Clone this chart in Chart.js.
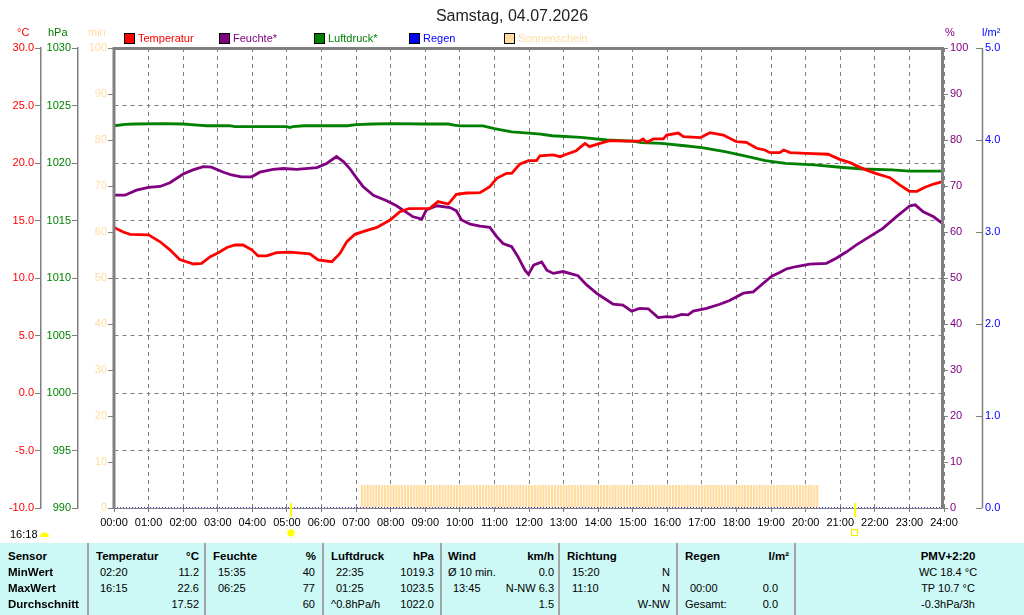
<!DOCTYPE html>
<html><head><meta charset="utf-8">
<script src="https://cdn.jsdelivr.net/npm/chart.js@4/dist/chart.umd.min.js"></script>
<style>
html,body{margin:0;padding:0;background:#fff;width:1024px;height:615px;overflow:hidden;font-family:"Liberation Sans",Arial,sans-serif;}
#wrap{position:absolute;left:0;top:0;width:1024px;height:543px;}
.t{position:absolute;white-space:nowrap;font-size:11px;line-height:13px;}
.b{font-weight:bold;font-size:11.5px;}
#title{position:absolute;left:0;width:1024px;top:7px;text-align:center;font-size:16px;line-height:18px;color:#222;}
.lg{position:absolute;top:33px;width:9px;height:9px;border:1px solid #000;}
#tab{position:absolute;left:0;top:543px;width:1024px;height:72px;background:#CCF8F6;color:#000;}
.sep{position:absolute;top:0;width:2px;height:72px;background:#A4A4A4;}
</style></head><body>
<div id="wrap"><canvas id="c" width="1024" height="543"></canvas></div>
<div id="title">Samstag, 04.07.2026</div>

<div class="t" style="left:17px;top:26px;color:#FF0000">°C</div>
<div class="t" style="left:48px;top:26px;color:#008000">hPa</div>
<div class="t" style="left:88px;top:26px;color:#FFDCA0">min</div>
<div class="t" style="left:945px;top:26px;color:#800080">%</div>
<div class="t" style="left:982px;top:26px;color:#0000FF">l/m²</div>

<div class="lg" style="left:124px;background:#FF0000"></div><div class="t" style="left:138px;top:32px;color:#FF0000">Temperatur</div>
<div class="lg" style="left:219px;background:#800080"></div><div class="t" style="left:233px;top:32px;color:#800080">Feuchte*</div>
<div class="lg" style="left:314px;background:#008000"></div><div class="t" style="left:328px;top:32px;color:#008000">Luftdruck*</div>
<div class="lg" style="left:409px;background:#0000FF"></div><div class="t" style="left:423px;top:32px;color:#0000FF">Regen</div>
<div class="lg" style="left:504px;background:#FFDCA0"></div><div class="t" style="left:518px;top:32px;color:#FFDCA0">Sonnenschein</div>

<div class="t" style="left:10px;top:528px;color:#000">16:18</div>

<div id="tab">
<div class="sep" style="left:87px"></div><div class="sep" style="left:204px"></div><div class="sep" style="left:322px"></div>
<div class="sep" style="left:440px"></div><div class="sep" style="left:558px"></div><div class="sep" style="left:676px"></div><div class="sep" style="left:794px"></div>

<div class="t b" style="left:8px;top:7px">Sensor</div>
<div class="t b" style="left:96px;top:7px">Temperatur</div><div class="t b" style="right:825px;top:7px">°C</div>
<div class="t b" style="left:213px;top:7px">Feuchte</div><div class="t b" style="right:708px;top:7px">%</div>
<div class="t b" style="left:331px;top:7px">Luftdruck</div><div class="t b" style="right:590px;top:7px">hPa</div>
<div class="t b" style="left:448px;top:7px">Wind</div><div class="t b" style="right:470px;top:7px">km/h</div>
<div class="t b" style="left:567px;top:7px">Richtung</div>
<div class="t b" style="left:685px;top:7px">Regen</div><div class="t b" style="right:235px;top:7px">l/m²</div>
<div class="t b" style="left:872px;width:152px;text-align:center;top:7px">PMV+2:20</div>

<div class="t b" style="left:8px;top:23px">MinWert</div>
<div class="t" style="left:100px;top:23px">02:20</div><div class="t" style="right:825px;top:23px">11.2</div>
<div class="t" style="left:218px;top:23px">15:35</div><div class="t" style="right:709px;top:23px">40</div>
<div class="t" style="left:336px;top:23px">22:35</div><div class="t" style="right:590px;top:23px">1019.3</div>
<div class="t" style="left:448px;top:23px">Ø 10 min.</div><div class="t" style="right:470px;top:23px">0.0</div>
<div class="t" style="left:572px;top:23px">15:20</div><div class="t" style="right:354px;top:23px">N</div>
<div class="t" style="left:872px;width:152px;text-align:center;top:23px">WC 18.4 °C</div>

<div class="t b" style="left:8px;top:39px">MaxWert</div>
<div class="t" style="left:100px;top:39px">16:15</div><div class="t" style="right:825px;top:39px">22.6</div>
<div class="t" style="left:218px;top:39px">06:25</div><div class="t" style="right:709px;top:39px">77</div>
<div class="t" style="left:336px;top:39px">01:25</div><div class="t" style="right:590px;top:39px">1023.5</div>
<div class="t" style="left:453px;top:39px">13:45</div><div class="t" style="right:470px;top:39px">N-NW 6.3</div>
<div class="t" style="left:572px;top:39px">11:10</div><div class="t" style="right:354px;top:39px">N</div>
<div class="t" style="left:690px;top:39px">00:00</div><div class="t" style="right:246px;top:39px">0.0</div>
<div class="t" style="left:872px;width:152px;text-align:center;top:39px">TP 10.7 °C</div>

<div class="t b" style="left:8px;top:55px">Durchschnitt</div>
<div class="t" style="right:825px;top:55px">17.52</div>
<div class="t" style="right:709px;top:55px">60</div>
<div class="t" style="left:331px;top:55px">^0.8hPa/h</div><div class="t" style="right:590px;top:55px">1022.0</div>
<div class="t" style="right:470px;top:55px">1.5</div>
<div class="t" style="right:354px;top:55px">W-NW</div>
<div class="t" style="left:685px;top:55px">Gesamt:</div><div class="t" style="right:246px;top:55px">0.0</div>
<div class="t" style="left:872px;width:152px;text-align:center;top:55px">-0.3hPa/3h</div>
</div>

<script>
const hourLabels = ["00:00","01:00","02:00","03:00","04:00","05:00","06:00","07:00","08:00","09:00","10:00","11:00","12:00","13:00","14:00","15:00","16:00","17:00","18:00","19:00","20:00","21:00","22:00","23:00","24:00"];

const tempTimes = ["00:00","00:16","00:28","01:00","01:20","01:37","01:54","02:18","02:32","02:47","03:01","03:16","03:30","03:44","03:59","04:10","04:25","04:42","05:05","05:40","05:54","06:18","06:32","06:44","06:58","07:12","07:36","07:59","08:16","08:32","09:08","09:22","09:40","09:54","10:12","10:35","10:52","11:04","11:21","11:30","11:44","11:59","12:13","12:19","12:42","12:54","13:05","13:22","13:37","13:45","14:03","14:20","14:49","15:12","15:18","15:24","15:36","15:53","15:59","16:19","16:28","16:57","17:14","17:37","18:00","18:17","18:35","18:49","18:58","19:15","19:22","19:33","20:01","20:39","20:59","21:17","21:34","21:57","22:26","22:43","23:00","23:13","23:27","23:42","23:59"];
const tempValues = [14.4,14.0,13.8,13.75,13.15,12.45,11.6,11.22,11.28,11.85,12.2,12.65,12.87,12.87,12.45,11.92,11.92,12.2,12.25,12.1,11.58,11.42,12.14,13.16,13.8,14.03,14.4,15.04,15.77,16.04,16.06,16.64,16.43,17.28,17.39,17.42,17.94,18.67,19.1,19.1,19.9,20.2,20.2,20.63,20.7,20.55,20.76,21.07,21.7,21.42,21.7,21.94,21.91,21.91,22.09,21.8,22.09,22.09,22.43,22.6,22.29,22.2,22.64,22.43,21.85,21.8,21.28,21.13,20.9,20.9,21.13,20.9,20.84,20.76,20.32,20.03,19.62,19.16,18.72,18.09,17.54,17.54,17.89,18.17,18.4];

const humTimes = ["00:00","00:19","00:39","01:00","01:20","01:37","02:00","02:17","02:35","02:49","03:10","03:24","03:41","03:59","04:13","04:36","04:54","05:17","05:52","06:09","06:26","06:38","06:49","07:01","07:12","07:30","07:53","08:10","08:32","08:39","08:54","09:02","09:20","09:43","09:54","10:03","10:18","10:35","10:52","11:04","11:15","11:30","11:41","11:53","11:59","12:08","12:22","12:31","12:42","12:59","13:25","13:40","13:57","14:09","14:26","14:43","14:58","15:12","15:27","15:44","15:59","16:10","16:25","16:36","16:45","17:08","17:31","17:48","18:12","18:29","18:46","19:01","19:15","19:27","19:44","20:07","20:36","20:53","21:11","21:28","21:51","22:14","22:37","23:01","23:10","23:24","23:42","23:56"];
const humValues = [68.0,68.0,69.1,69.7,69.9,70.7,72.6,73.5,74.2,74.1,73.0,72.4,72.0,72.0,73.0,73.6,73.8,73.6,74.0,74.9,76.4,75.3,73.8,71.7,69.9,68.0,66.8,65.7,63.9,63.3,62.8,64.8,65.7,65.3,64.6,62.6,61.7,61.3,61.0,59.0,57.5,56.8,54.6,51.7,50.8,52.8,53.5,51.7,51.0,51.4,50.5,48.5,46.7,45.7,44.3,44.1,42.8,43.4,43.3,41.4,41.6,41.5,42.1,42.0,42.8,43.4,44.3,45.1,46.7,47.0,48.8,50.4,51.2,52.0,52.5,53.0,53.2,54.3,55.7,57.2,59.0,60.8,63.3,65.7,65.9,64.4,63.3,62.0];

const pressTimes = ["00:00","00:20","00:35","01:25","02:00","02:25","02:40","03:20","03:30","05:00","05:05","05:10","05:30","06:45","07:00","07:30","08:00","09:00","09:40","09:50","10:00","10:40","11:00","11:30","12:00","12:20","12:40","13:30","14:15","15:00","15:15","15:50","16:30","17:00","17:40","18:20","18:50","19:25","20:15","21:00","21:40","22:30","23:00","24:00"];
const pressValues = [1023.24,1023.35,1023.39,1023.42,1023.39,1023.3,1023.24,1023.24,1023.16,1023.16,1023.08,1023.16,1023.24,1023.24,1023.33,1023.39,1023.42,1023.39,1023.39,1023.3,1023.22,1023.22,1022.98,1022.7,1022.6,1022.52,1022.37,1022.23,1022.0,1021.91,1021.77,1021.71,1021.5,1021.33,1020.98,1020.55,1020.2,1019.97,1019.83,1019.63,1019.48,1019.4,1019.3,1019.3];

const rainTimes = ["00:00","24:00"];
const rainValues = [0.0,0.0];

// sunshine: sunny 5-minute slots (minutes of sun per slot) over the observed period
const sunPeriods = [["07:10","20:20"]];
const sunMinutesPerSlot = 5;

const sunriseTime = "05:07";
const sunsetTime = "21:26";

const toH = s => { const p = s.split(':').map(Number); return p[0] + p[1] / 60; };
const pts = (times, vals) => times.map((t, i) => ({x: toH(t), y: vals[i]}));

const sunBars = [];
sunPeriods.forEach(([a, b]) => {
  for (let m = Math.round(toH(a) * 60); m <= Math.round(toH(b) * 60); m += 5) {
    sunBars.push({x: m / 60, y: sunMinutesPerSlot});
  }
});

const FONT = "'Liberation Sans', Arial, sans-serif";
Chart.defaults.font.family = FONT;
Chart.defaults.font.size = 11;

const decor = {
  id: 'decor',
  afterDraw(chart) {
    const {ctx, chartArea: a, scales} = chart;
    ctx.save();
    // rain axis line
    const xr = Math.round(scales.yR.left + 6) + 0.5;
    ctx.strokeStyle = '#808080'; ctx.lineWidth = 1.5;
    ctx.beginPath(); ctx.moveTo(xr, a.top); ctx.lineTo(xr, a.bottom); ctx.stroke();
    // frame
    ctx.lineWidth = 3;
    ctx.beginPath();
    ctx.moveTo(a.left, a.bottom); ctx.lineTo(a.left, a.top + 0.5);
    ctx.lineTo(a.right - 1.5, a.top + 0.5); ctx.lineTo(a.right - 1.5, a.bottom);
    ctx.stroke();
    // sunrise / sunset markers
    const xs = scales.x;
    const sr = xs.getPixelForValue(toH(sunriseTime));
    const ss = xs.getPixelForValue(toH(sunsetTime));
    ctx.strokeStyle = '#FFFF00'; ctx.lineWidth = 2;
    ctx.beginPath();
    ctx.moveTo(sr, a.bottom - 5); ctx.lineTo(sr, a.bottom + 9);
    ctx.moveTo(ss, a.bottom - 5); ctx.lineTo(ss, a.bottom + 9);
    ctx.stroke();
    // sun icon
    const cy = a.bottom + 25;
    ctx.strokeStyle = '#FFFF99'; ctx.lineWidth = 1;
    ctx.beginPath();
    for (let k = 0; k < 8; k++) {
      const ang = k * Math.PI / 4;
      ctx.moveTo(sr + Math.cos(ang) * 4, cy + Math.sin(ang) * 4);
      ctx.lineTo(sr + Math.cos(ang) * 6.5, cy + Math.sin(ang) * 6.5);
    }
    ctx.stroke();
    ctx.fillStyle = '#FFFF00';
    ctx.beginPath(); ctx.arc(sr, cy, 3.5, 0, Math.PI * 2); ctx.fill();
    // sunset square
    ctx.strokeStyle = '#EEEE00'; ctx.lineWidth = 1.2;
    ctx.strokeRect(Math.round(ss) - 3.5, cy - 3.5, 6, 6);
    // small half sun next to time text
    ctx.fillStyle = '#FFFF00';
    ctx.beginPath(); ctx.arc(44.5, 537, 4.5, Math.PI, 0); ctx.closePath(); ctx.fill();
    ctx.restore();
  }
};

new Chart(document.getElementById('c'), {
  type: 'line',
  data: {
    datasets: [
      {label: 'Temperatur', data: pts(tempTimes, tempValues), yAxisID: 'yT', borderColor: '#FF0000', borderWidth: 2.8, pointRadius: 0, tension: 0, order: 1},
      {label: 'Feuchte*', data: pts(humTimes, humValues), yAxisID: 'yH', borderColor: '#800080', borderWidth: 2.8, pointRadius: 0, tension: 0, order: 2},
      {label: 'Luftdruck*', data: pts(pressTimes, pressValues), yAxisID: 'yP', borderColor: '#008000', borderWidth: 2.8, pointRadius: 0, tension: 0, order: 3},
      {label: 'Regen', data: pts(rainTimes, rainValues), yAxisID: 'yR', borderColor: '#0000C0', borderWidth: 1.5, borderDash: [1, 2], pointRadius: 0, tension: 0, order: 0},
      {type: 'bar', label: 'Sonnenschein', data: sunBars, yAxisID: 'yS', backgroundColor: '#FFDCA0', borderWidth: 0, barPercentage: 0.75, categoryPercentage: 1, order: 5}
    ]
  },
  options: {
    responsive: false,
    animation: false,
    events: [],
    layout: {padding: {top: 48, bottom: 15, left: 0, right: 0}},
    plugins: {legend: {display: false}, tooltip: {enabled: false}, title: {display: false}},
    scales: {
      x: {
        type: 'linear', position: 'bottom', min: 0, max: 24, offset: false,
        ticks: {stepSize: 1, autoSkip: false, maxRotation: 0, minRotation: 0, color: '#000', padding: 4,
                font: {size: 11}, callback: v => hourLabels[Math.round(v)]},
        grid: {offset: false, color: '#808080', lineWidth: 1, tickLength: 4, tickColor: '#808080', drawTicks: true},
        border: {display: true, color: '#808080', width: 1, dash: [4, 4]},
        afterFit: s => { s.height = 20; }
      },
      yT: {
        position: 'left', weight: 3, min: -10, max: 30,
        ticks: {stepSize: 5, color: '#FF0000', padding: 1, callback: v => v.toFixed(1)},
        grid: {drawOnChartArea: true, color: '#808080', lineWidth: 1, tickLength: 6, tickColor: '#808080'},
        border: {display: true, color: '#808080', width: 1.5, dash: [4, 4]},
        afterFit: s => { s.width = 41; }
      },
      yP: {
        position: 'left', weight: 2, min: 990, max: 1030,
        ticks: {stepSize: 5, color: '#008000', padding: 1, callback: v => String(v)},
        grid: {drawOnChartArea: false, tickLength: 6, tickColor: '#808080'},
        border: {display: true, color: '#808080', width: 1.5},
        afterFit: s => { s.width = 37; }
      },
      yS: {
        position: 'left', weight: 1, min: 0, max: 100,
        ticks: {stepSize: 10, color: '#FFDCA0', padding: 1},
        grid: {drawOnChartArea: false, tickLength: 6, tickColor: '#808080'},
        border: {display: false},
        afterFit: s => { s.width = 36; }
      },
      yH: {
        position: 'right', weight: 1, min: 0, max: 100,
        ticks: {stepSize: 10, color: '#800080', padding: 2},
        grid: {drawOnChartArea: false, tickLength: 4, tickColor: '#808080'},
        border: {display: false},
        afterFit: s => { s.width = 32; }
      },
      yR: {
        position: 'right', weight: 2, min: 0, max: 5,
        ticks: {stepSize: 1, color: '#0000FF', padding: 3, callback: v => v.toFixed(1)},
        grid: {drawOnChartArea: false, tickLength: 6, tickColor: '#808080'},
        border: {display: false},
        afterFit: s => { s.width = 48; }
      }
    }
  },
  plugins: [decor]
});
</script>
</body></html>
